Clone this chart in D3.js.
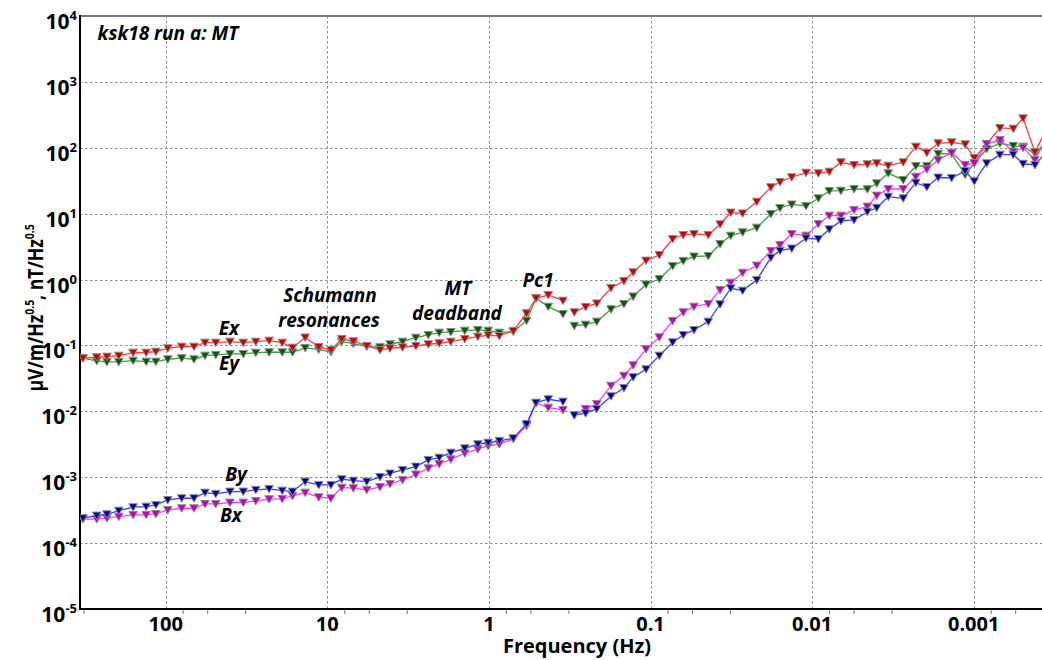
<!DOCTYPE html>
<html>
<head>
<meta charset="utf-8">
<script src="https://cdn.jsdelivr.net/npm/d3@7/dist/d3.min.js"></script>
<style>
body{margin:0;background:#fff;}
svg text{font-family:"Open Sans",sans-serif;font-weight:bold;fill:#000;}
</style>
</head>
<body>
<svg id="chart" width="1042" height="660"></svg>
<script>
// frequencies (Hz); the record has a gap after index 39
const freq=[325,267,231,195,159,132,115,97,79.6,66.8,
  57.1,49.0,40.0,33.1,27.7,22.9,19.0,16.4,13.7,11.3,
  9.49,8.14,6.90,5.70,4.72,4.09,3.42,2.83,2.37,2.03,
  1.72,1.41,1.17,1.01,0.862,0.706,0.585,0.511,0.429,0.348,
  0.296,0.252,0.215,0.1755,0.146,0.128,0.1066,0.0882,0.0729,0.0627,
  0.0538,0.0439,0.0371,0.0319,0.0269,0.0220,0.0180,0.0158,0.01337,0.01091,
  0.00915,0.00783,0.00663,0.00550,0.00455,0.00398,0.00338,0.00273,0.00228,0.00195,
  0.00166,0.00137,0.00113,0.000992,0.000831,0.000688,0.000569,0.000495,0.000418,0.000347];
const segBreak=40;

const ex=[0.0640,0.0662,0.0676,0.0700,0.0778,0.0778,0.0805,0.0907,0.0959,0.0959,
  0.1103,0.1103,0.1142,0.1103,0.1142,0.1183,0.1103,0.0926,0.1322,0.0949,
  0.0855,0.1255,0.1158,0.0983,0.0855,0.0907,0.0939,0.0983,0.1043,0.1080,
  0.1142,0.1255,0.1360,0.1428,0.1394,0.166,0.308,0.520,0.584,0.478,
  0.319,0.384,0.434,0.746,0.952,1.29,1.94,2.36,4.13,4.75,
  4.92,4.75,6.90,10.4,10.1,15.2,25.2,30.3,35.7,41.9,
  41.0,43.4,60.3,54.8,56.2,58.2,53.5,60.3,104,84.3,
  117,121,113,70.0,114,200,195,280,85.8,214];
const ey=[0.0640,0.0582,0.0562,0.0562,0.0588,0.0568,0.0568,0.0617,0.0640,0.0617,
  0.0700,0.0718,0.0743,0.0743,0.0778,0.0788,0.0788,0.0788,0.0917,0.0870,
  0.0797,0.1142,0.1065,0.0959,0.0939,0.1043,0.1142,0.1313,0.1443,0.1564,
  0.1603,0.1677,0.1718,0.1677,0.1564,0.162,0.238,0.520,0.388,0.301,
  0.199,0.207,0.230,0.354,0.426,0.554,0.843,1.02,1.61,1.92,
  2.24,2.28,3.47,4.64,5.22,6.13,9.9,12.2,13.8,13.1,
  17.1,22.1,22.3,23.7,23.5,28.9,41.0,32.5,52.9,52.9,
  81.4,81.0,39.1,58.2,95.9,117,107,104,81.4,131];
const by=[2.39e-4,2.62e-4,2.74e-4,3.11e-4,3.51e-4,3.58e-4,3.80e-4,4.52e-4,4.80e-4,4.80e-4,
  5.84e-4,5.58e-4,6.05e-4,6.05e-4,6.42e-4,6.65e-4,6.26e-4,6.05e-4,8.58e-4,7.64e-4,
  7.64e-4,9.33e-4,8.88e-4,8.58e-4,1.01e-3,1.14e-3,1.29e-3,1.45e-3,1.83e-3,1.98e-3,
  2.36e-3,2.75e-3,3.17e-3,3.35e-3,3.56e-3,3.91e-3,6.44e-3,1.355e-2,1.526e-2,1.404e-2,
  8.73e-3,9.36e-3,1.088e-2,1.695e-2,2.26e-2,3.30e-2,4.35e-2,7.00e-2,0.1118,0.1443,
  0.1718,0.230,0.422,0.738,0.679,0.986,2.15,2.74,2.96,4.23,
  4.13,5.80,7.75,8.02,10.7,12.3,18.1,17.1,29.5,25.4,
  35.4,34.8,44.5,31.0,58.2,78.6,78.6,57.2,54.8,92.6];
const bx=[2.31e-4,2.31e-4,2.39e-4,2.52e-4,2.68e-4,2.68e-4,2.77e-4,3.19e-4,3.38e-4,3.38e-4,
  3.93e-4,3.93e-4,4.12e-4,4.12e-4,4.37e-4,4.64e-4,4.69e-4,5.20e-4,5.84e-4,4.97e-4,
  4.80e-4,6.95e-4,6.81e-4,6.42e-4,7.12e-4,7.91e-4,9.10e-4,1.10e-3,1.37e-3,1.59e-3,
  1.87e-3,2.31e-3,2.66e-3,2.99e-3,3.17e-3,3.81e-3,6.00e-3,1.327e-2,1.138e-2,1.050e-2,
  8.73e-3,1.088e-2,1.295e-2,2.45e-2,3.47e-2,5.01e-2,8.79e-2,0.133,0.235,0.319,
  0.388,0.426,0.695,0.897,1.27,1.63,2.72,3.35,4.92,4.64,
  6.98,9.33,9.33,11.4,12.8,18.8,23.7,23.7,36.4,47.3,
  65.3,84.3,54.8,58.8,114,131,87.3,100,65.3,156];

const xTicks=[100,10,1,0.1,0.01,0.001];
const xTickLabels=["100","10","1","0.1","0.01","0.001"];
const yExps=[4,3,2,1,0,-1,-2,-3,-4,-5];
const minorFactors=[0.78,0.55,0.32];

const series=[
  {name:"Ey",vals:ey,line:"#3f9c3f",mark:"#0a5a0a"},
  {name:"Ex",vals:ex,line:"#ff3c3c",mark:"#c80000"},
  {name:"Bx",vals:bx,line:"#ff3cff",mark:"#c000c0"},
  {name:"By",vals:by,line:"#3c3cff",mark:"#00009a"}
];

const svg=d3.select("#chart");
const L=80,R=1042,T=16,B=609;
const x=d3.scaleLog().domain([339,3.78e-4]).range([L,R]);
const y=d3.scaleLog().domain([1e-5,1e4]).range([B,T]);

svg.append("defs").append("clipPath").attr("id","plotclip")
  .append("rect").attr("x",L).attr("y",T-6).attr("width",R-L).attr("height",B-T+12);

// grid
const grid=svg.append("g").attr("stroke","#8c8c8c").attr("stroke-width",1).attr("stroke-dasharray","2.5,2.5");
grid.selectAll("line.v").data(xTicks).join("line").attr("class","v")
  .attr("x1",d=>Math.round(x(d))+0.5).attr("x2",d=>Math.round(x(d))+0.5).attr("y1",T).attr("y2",B);
grid.selectAll("line.h").data(yExps.slice(1,-1)).join("line").attr("class","h")
  .attr("x1",L).attr("x2",R).attr("y1",d=>Math.round(y(Math.pow(10,d)))+0.5).attr("y2",d=>Math.round(y(Math.pow(10,d)))+0.5);

// minor ticks below the frequency axis
let minors=[];
for(let e=3;e>=-4;e--) minorFactors.forEach(f=>{const v=f*Math.pow(10,e); if(v<339 && v>3.78e-4) minors.push(v);});
svg.append("g").selectAll("line").data(minors).join("line")
  .attr("x1",d=>x(d)).attr("x2",d=>x(d)).attr("y1",B).attr("y2",B+5)
  .attr("stroke","#777").attr("stroke-width",1);

// frame
svg.append("line").attr("x1",L).attr("x2",R).attr("y1",T).attr("y2",T).attr("stroke","#7a7a7a").attr("stroke-width",2);
svg.append("line").attr("x1",L).attr("x2",L).attr("y1",T-1).attr("y2",B+1).attr("stroke","#000").attr("stroke-width",2);
svg.append("line").attr("x1",L-1).attr("x2",R).attr("y1",B).attr("y2",B).attr("stroke","#000").attr("stroke-width",2);

// series
const plot=svg.append("g").attr("clip-path","url(#plotclip)");
const line=d3.line().x(d=>x(d.f)).y(d=>y(d.v));
const tri=d3.symbol().type(d3.symbolTriangle).size(32);
series.forEach(s=>{
  const pts=freq.map((f,i)=>({f:f,v:s.vals[i]}));
  [pts.slice(0,segBreak),pts.slice(segBreak)].forEach(seg=>{
    plot.append("path").datum(seg).attr("d",line)
      .attr("fill","none").attr("stroke",s.line).attr("stroke-width",1.3);
  });
  plot.append("g").selectAll("path").data(pts).join("path")
    .attr("d",tri)
    .attr("transform",d=>"translate("+x(d.f)+","+(y(d.v)-1)+") rotate(180)")
    .attr("fill",s.mark).attr("stroke","#8a8a8a").attr("stroke-width",1);
});

// x tick labels
svg.append("g").selectAll("text").data(xTicks).join("text")
  .attr("x",d=>x(d)).attr("y",631).attr("text-anchor","middle")
  .attr("font-size",20).text((d,i)=>xTickLabels[i]);

// y tick labels 10^n
const yl=svg.append("g").selectAll("text").data(yExps).join("text")
  .attr("x",77).attr("y",d=>y(Math.pow(10,d))+13).attr("text-anchor","end")
  .attr("font-size",21);
yl.append("tspan").text("10");
yl.append("tspan").attr("dy",-9).attr("font-size",13).text(d=>d);

// axis titles
svg.append("text").attr("x",577).attr("y",653).attr("text-anchor","middle")
  .attr("font-size",20).text("Frequency (Hz)");
const yt=svg.append("text").attr("transform","translate(43,308) rotate(-90) scale(0.8,1)")
  .attr("text-anchor","middle").attr("font-size",22);
yt.append("tspan").text("\u03bcV/m/Hz");
yt.append("tspan").attr("dy",-9).attr("font-size",13).text("0.5");
yt.append("tspan").attr("dy",9).text(", nT/Hz");
yt.append("tspan").attr("dy",-9).attr("font-size",13).text("0.5");

// annotations
const ann=svg.append("g").attr("font-style","italic").attr("font-size",19).attr("text-anchor","middle");
[["ksk18 run a: MT",168,40],["Ex",229,335],["Ey",229,370],["Schumann",330,302],["resonances",329,327],
 ["MT",458,295],["deadband",457,320],["Pc1",538,287],["By",236,481],["Bx",231,522]]
 .forEach(a=>ann.append("text").attr("x",a[1]).attr("y",a[2]).text(a[0]));
</script>
</body>
</html>
